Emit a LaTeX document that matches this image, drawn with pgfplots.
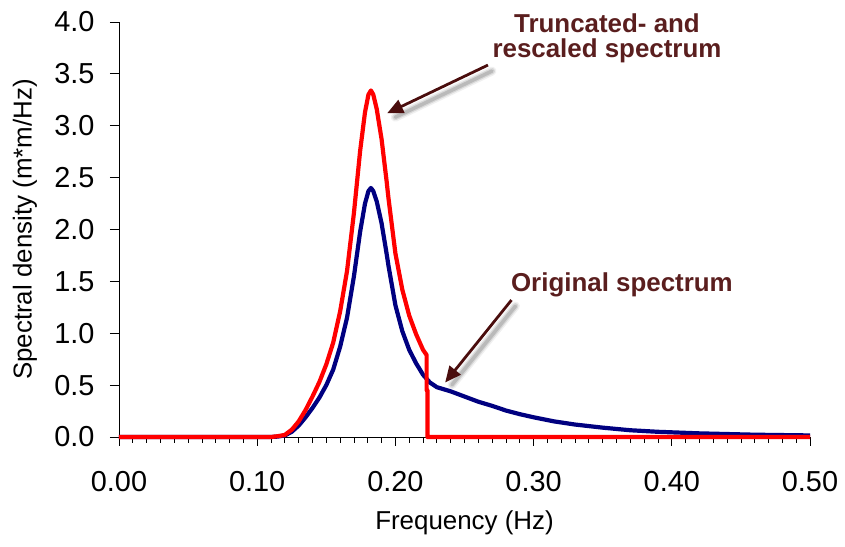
\documentclass[border=0pt]{standalone}
\usepackage{fontspec}
\setmainfont{Liberation Sans}
\usepackage{pgfplots}
\pgfplotsset{compat=1.18}
\usetikzlibrary{arrows.meta}
\definecolor{annot}{HTML}{5A1E1E}
\definecolor{arrowc}{HTML}{4A0D0D}
\definecolor{navyc}{HTML}{000080}
\tikzset{shad/.style={black, line cap=round}}
\begin{document}
\begin{tikzpicture}[x=1bp,y=1bp]
\useasboundingbox (-119,-110) rectangle (726,437);
\begin{axis}[
  at={(0,0)}, anchor=south west,
  width=691bp, height=415bp, scale only axis,
  xmin=0, xmax=0.5, ymin=0, ymax=4,
  axis x line*=bottom, axis y line*=left,
  axis line style={black, line width=0.8bp},
  xtick={0,0.1,0.2,0.3,0.4,0.5},
  ytick={0,0.5,1,1.5,2,2.5,3,3.5,4},
  minor x tick num=9,
  tick align=outside,
  major tick length=9bp, minor tick length=6bp,
  tick style={black, line width=0.8bp},
  /pgf/number format/assume math mode=true,
  xticklabel style={/pgf/number format/.cd, fixed, fixed zerofill, precision=2},
  yticklabel style={/pgf/number format/.cd, fixed, fixed zerofill, precision=1},
  tick label style={font=\fontsize{29}{29}\selectfont},
  xticklabel shift=22bp, yticklabel shift=12bp,
  xlabel={Frequency (Hz)},
  ylabel={Spectral density (m*m/Hz)},
  every axis x label/.style={at={(axis description cs:0.5,-0.207)}, anchor=center,
    font=\fontsize{26}{26}\selectfont},
  every axis y label/.style={at={(axis description cs:-0.136,0.5)}, rotate=90, anchor=center,
    font=\fontsize{26}{26}\selectfont},
  clip=false,
]
\addplot[navyc, line width=4.2bp, line join=round] coordinates {
(0.000,0) (0.110,0) (0.115,0.004) (0.120,0.015) (0.125,0.05) (0.130,0.11)
(0.135,0.19) (0.140,0.28) (0.145,0.38) (0.150,0.50) (0.155,0.65) (0.160,0.87)
(0.165,1.15) (0.170,1.55) (0.1745,1.98) (0.178,2.25) (0.1805,2.37) (0.1823,2.40) (0.184,2.37) (0.1865,2.27)
(0.190,2.06) (0.1936,1.77) (0.195,1.65) (0.200,1.27) (0.205,1.02) (0.210,0.84)
(0.215,0.71) (0.220,0.60) (0.225,0.525) (0.230,0.48) (0.240,0.44) (0.250,0.39)
(0.260,0.34) (0.270,0.30) (0.280,0.255) (0.290,0.22) (0.300,0.19) (0.315,0.15)
(0.330,0.12) (0.350,0.09) (0.370,0.065) (0.390,0.05) (0.420,0.035) (0.460,0.022)
(0.500,0.015)
};
\addplot[red, line width=4.2bp, line join=round] coordinates {
(0.000,0) (0.110,0) (0.115,0.008) (0.120,0.02) (0.125,0.07) (0.130,0.15)
(0.135,0.26) (0.140,0.39) (0.145,0.53) (0.150,0.70) (0.155,0.91) (0.160,1.21)
(0.165,1.60) (0.170,2.16) (0.1745,2.76) (0.178,3.13) (0.1805,3.30) (0.1823,3.34) (0.184,3.30) (0.1865,3.16)
(0.190,2.87) (0.1936,2.47) (0.195,2.30) (0.200,1.77) (0.205,1.42) (0.210,1.17)
(0.215,0.99) (0.220,0.84) (0.2226,0.79) (0.2226,0.45) (0.2232,0.45) (0.2232,0)
(0.500,0)
};
% arrow shadows
\draw[shad, opacity=0.06, line width=9bp]
  ([xshift=4bp,yshift=-6bp]axis cs:0.267,3.585) -- ([xshift=4bp,yshift=-6bp]axis cs:0.197,3.14);
\draw[shad, opacity=0.10, line width=6bp]
  ([xshift=4bp,yshift=-6bp]axis cs:0.267,3.585) -- ([xshift=4bp,yshift=-6bp]axis cs:0.197,3.14);
\draw[shad, opacity=0.14, line width=3.5bp]
  ([xshift=4bp,yshift=-6bp]axis cs:0.267,3.585) -- ([xshift=4bp,yshift=-6bp]axis cs:0.197,3.14);
\draw[shad, opacity=0.06, line width=9bp]
  ([xshift=4bp,yshift=-6bp]axis cs:0.284,1.32) -- ([xshift=4bp,yshift=-6bp]axis cs:0.238,0.56);
\draw[shad, opacity=0.10, line width=6bp]
  ([xshift=4bp,yshift=-6bp]axis cs:0.284,1.32) -- ([xshift=4bp,yshift=-6bp]axis cs:0.238,0.56);
\draw[shad, opacity=0.14, line width=3.5bp]
  ([xshift=4bp,yshift=-6bp]axis cs:0.284,1.32) -- ([xshift=4bp,yshift=-6bp]axis cs:0.238,0.56);
\draw[arrowc, line width=2.8bp, -{Triangle[length=16bp,width=14bp]}]
  (axis cs:0.267,3.585) -- (axis cs:0.194,3.12);
\draw[arrowc, line width=2.8bp, -{Triangle[length=16bp,width=14bp]}]
  (axis cs:0.284,1.32) -- (axis cs:0.236,0.525);
\node[annot, anchor=north, align=center, inner sep=0pt,
  font=\fontsize{26}{25}\selectfont\bfseries]
  at (axis cs:0.3531,4.077) {Truncated- and\\rescaled spectrum};
\node[annot, anchor=base, inner sep=0pt,
  font=\fontsize{26}{25}\selectfont\bfseries]
  at (axis cs:0.3639,1.407) {Original spectrum};
\end{axis}
\end{tikzpicture}
\end{document}
